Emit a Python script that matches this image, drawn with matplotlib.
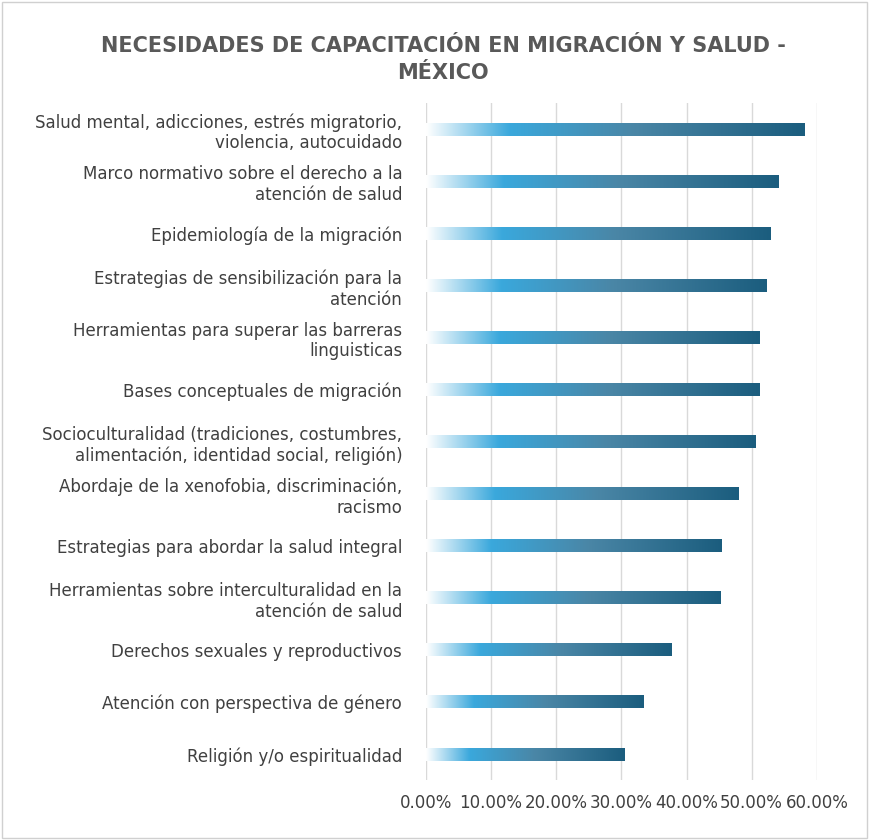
import numpy as np
import matplotlib.pyplot as plt
from matplotlib.colors import LinearSegmentedColormap
from matplotlib.patches import Rectangle

categorias = [
    "Salud mental, adicciones, estrés migratorio,\nviolencia, autocuidado",
    "Marco normativo sobre el derecho a la\natención de salud",
    "Epidemiología de la migración",
    "Estrategias de sensibilización para la\natención",
    "Herramientas para superar las barreras\nlinguisticas",
    "Bases conceptuales de migración",
    "Socioculturalidad (tradiciones, costumbres,\nalimentación, identidad social, religión)",
    "Abordaje de la xenofobia, discriminación,\nracismo",
    "Estrategias para abordar la salud integral",
    "Herramientas sobre interculturalidad en la\natención de salud",
    "Derechos sexuales y reproductivos",
    "Atención con perspectiva de género",
    "Religión y/o espiritualidad",
]
valores = [58.1, 54.1, 52.9, 52.3, 51.2, 51.2, 50.5, 48.0, 45.4, 45.2, 37.7, 33.3, 30.4]
ticks = [0, 10, 20, 30, 40, 50, 60]

cmap = LinearSegmentedColormap.from_list(
    "grad", [(0, "#ffffff"), (0.22, "#3aa8dc"), (0.55, "#4a86a6"), (1, "#1b5d7e")])

fig = plt.figure(figsize=(8.69, 8.4), dpi=100)
fig.patches.append(Rectangle((0.002, 0.002), 0.996, 0.996, transform=fig.transFigure,
                             fill=False, edgecolor="#d0d0d0", linewidth=1))
ax = fig.add_axes([0.49, 0.071, 0.45, 0.806])

n = len(valores)
y = np.arange(n)[::-1]
h = 0.24
grad = np.linspace(0, 1, 256).reshape(1, -1)
for yi, v in zip(y, valores):
    ax.imshow(grad, cmap=cmap, aspect="auto", extent=[0, v, yi - h / 2, yi + h / 2],
              zorder=3, interpolation="bicubic")

ax.set_xlim(0, 60)
ax.set_ylim(-0.5, n - 0.5)
ax.set_yticks(y)
ax.set_yticklabels(categorias, fontsize=12, color="#404040")
ax.set_xticks(ticks)
ax.set_xticklabels([f"{t:.2f}%" for t in ticks], fontsize=12, color="#404040")
ax.tick_params(axis="y", length=0, pad=17)
ax.tick_params(axis="x", length=0, pad=10)
ax.grid(axis="x", color="#d9d9d9", linewidth=1, zorder=0)
for s in ax.spines.values():
    s.set_visible(False)

fig.text(0.51, 0.929, "NECESIDADES DE CAPACITACIÓN EN MIGRACIÓN Y SALUD -\nMÉXICO",
         ha="center", va="center", fontsize=15, fontweight="bold", color="#595959",
         linespacing=1.4)

fig.savefig("out.png", dpi=100)
